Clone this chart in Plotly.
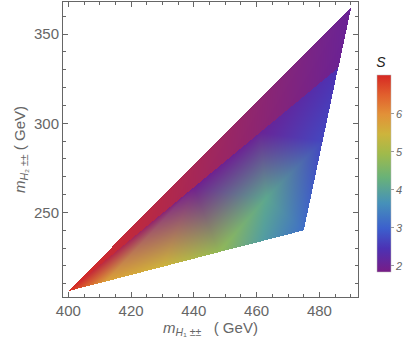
import numpy as np
import plotly.graph_objects as go

# scan points (m_H1, m_H2 in GeV) with their S value
# 0 A, 1-4 lower edge, 5 B, 6 R1, 7 R2 (lower side), 8 T, 9-10 crease,
# 11 interior, 12 R2 (upper side)
m_h1 = [400.0, 412.0, 430.0, 448.0, 462.0, 475.0, 481.0, 485.9, 490.0,
        440.0, 461.0, 463.0, 485.9]
m_h2 = [206.0, 211.4, 219.6, 227.8, 234.1, 240.0, 290.0, 331.0, 365.0,
        264.2, 294.8, 258.0, 331.0]
s_val = [7.0, 5.8, 5.5, 4.8, 3.9, 3.2, 2.7, 2.45, 2.05,
         1.95, 2.05, 4.1, 2.0]

# triangulation of the scan points
triangles = [(0, 12, 8),
             (0, 1, 9), (1, 2, 9), (2, 3, 9), (3, 11, 9), (9, 11, 10),
             (3, 4, 11), (4, 5, 11), (5, 6, 11), (6, 10, 11), (6, 7, 10)]

s_min, s_max = 1.84, 7.03
x_range = [398.3, 492.3]
y_range = [202.6, 368.0]

# Mathematica-like "Rainbow" gradient
rainbow = [(0.00, (120, 28, 134)), (0.12, (76, 50, 180)), (0.22, (60, 95, 205)),
           (0.35, (70, 145, 185)), (0.48, (105, 178, 120)), (0.60, (160, 186, 75)),
           (0.70, (205, 180, 60)), (0.80, (226, 145, 56)), (0.90, (225, 95, 45)),
           (1.00, (215, 40, 35))]
colorscale = [[p, "rgb(%d,%d,%d)" % c] for p, c in rainbow]


def rainbow_rgb(s):
    t = (s - s_min) / (s_max - s_min)
    pos = [p for p, _ in rainbow]
    return np.array([np.interp(t, pos, [c[k] for _, c in rainbow]) for k in range(3)])


# density image: colours of the points blended over each triangle
nx, ny = 295, 295
dx = (x_range[1] - x_range[0]) / nx
dy = (y_range[1] - y_range[0]) / ny
xs = x_range[0] + dx * (np.arange(nx) + 0.5)
ys = y_range[0] + dy * (np.arange(ny) + 0.5)
X, Y = np.meshgrid(xs, ys)
img = np.zeros((ny, nx, 4))
done = np.zeros((ny, nx), bool)
vx, vy = np.array(m_h1), np.array(m_h2)
vcol = [rainbow_rgb(s) for s in s_val]
for a, b, c in triangles:
    det = (vy[b] - vy[c]) * (vx[a] - vx[c]) + (vx[c] - vx[b]) * (vy[a] - vy[c])
    wa = ((vy[b] - vy[c]) * (X - vx[c]) + (vx[c] - vx[b]) * (Y - vy[c])) / det
    wb = ((vy[c] - vy[a]) * (X - vx[c]) + (vx[a] - vx[c]) * (Y - vy[c])) / det
    wc = 1 - wa - wb
    inside = (wa >= -2e-3) & (wb >= -2e-3) & (wc >= -2e-3) & ~done
    for k in range(3):
        img[..., k][inside] = (wa * vcol[a][k] + wb * vcol[b][k] + wc * vcol[c][k])[inside]
    img[..., 3][inside] = 255
    done |= inside
img = np.round(np.clip(img, 0, 255)).astype(int)

fig = go.Figure()
fig.add_trace(go.Image(z=img.tolist(), colormodel="rgba256", x0=xs[0], dx=dx,
                       y0=ys[0], dy=dy, hoverinfo="skip"))
fig.add_trace(go.Scatter(
    x=[None], y=[None], mode="markers", showlegend=False,
    marker=dict(color=[s_min, s_max], cmin=s_min, cmax=s_max, colorscale=colorscale,
                showscale=True,
                colorbar=dict(thickness=14, len=0.74, lenmode="fraction",
                              x=1.063, xanchor="left", xpad=0,
                              y=0.455, yanchor="middle", ypad=0,
                              outlinewidth=0.5, outlinecolor="#bbb",
                              tickvals=[2, 3, 4, 5, 6], ticks="outside", ticklen=3,
                              tickcolor="#999",
                              tickfont=dict(size=11, color="#666", style="italic"),
                              title=dict(text="<i>S</i>", side="top",
                                         font=dict(size=14, color="#222"))))))

axis_font = dict(family="Liberation Sans, Arial", size=15, color="#666")
common = dict(showline=True, mirror="allticks", linecolor="#666", linewidth=1,
              ticks="inside", ticklen=5, tickcolor="#666", showgrid=False,
              zeroline=False, tickfont=axis_font, autorange=False,
              scaleanchor=False, constrain="range", automargin=False)
fig.update_xaxes(range=x_range, tickvals=[400, 420, 440, 460, 480],
                 minor=dict(dtick=5, ticks="inside", ticklen=3, tickcolor="#666"),
                 title=dict(text="<i>m</i><sub><i>H</i>\u2081 \u00b1\u00b1</sub>   ( GeV)",
                            font=axis_font, standoff=4),
                 **common)
fig.update_yaxes(range=y_range, tickvals=[250, 300, 350],
                 minor=dict(dtick=10, ticks="inside", ticklen=3, tickcolor="#666"),
                 title=dict(text="<i>m</i><sub><i>H</i>\u2082 \u00b1\u00b1</sub> ( GeV)",
                            font=axis_font, standoff=4),
                 **common)
fig.update_layout(width=408, height=354, margin=dict(l=63, r=50, t=2, b=57),
                  plot_bgcolor="white", paper_bgcolor="white",
                  font=dict(family="Liberation Sans, Arial"))
fig.write_html("out.html", config={"displayModeBar": False},
               post_script="document.body.style.margin='0';")
